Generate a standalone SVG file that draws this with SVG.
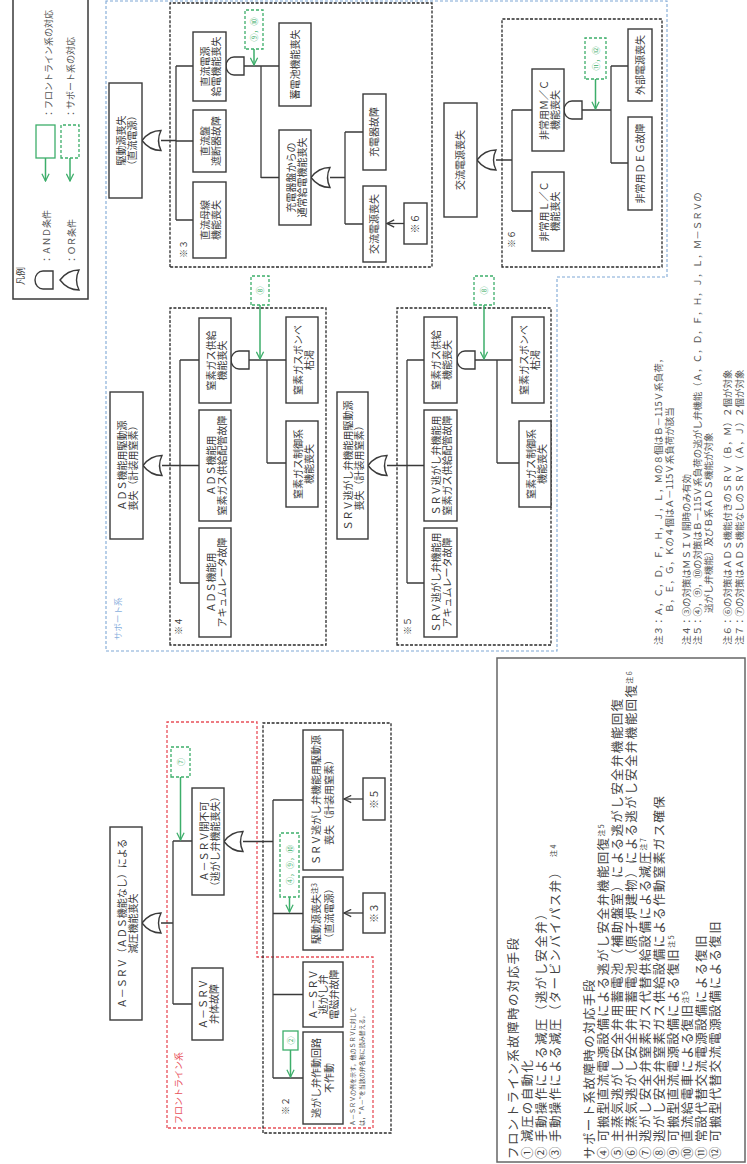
<svg xmlns="http://www.w3.org/2000/svg" width="747" height="1164" viewBox="0 0 747 1164">
<style>
.bx{fill:#fff;stroke:#3a3a3a;stroke-width:1.4}
.t{font-family:"Noto Sans CJK JP","Noto Sans",sans-serif;font-size:10px;fill:#3a3a3a;text-anchor:middle}
.ln{fill:none;stroke:#3a3a3a;stroke-width:1.3}
.gt{fill:#fff;stroke:#3a3a3a;stroke-width:1.4}
.gd{fill:#fff;stroke:#3dae6a;stroke-width:1.3;stroke-dasharray:3 2}
.gs{fill:#fff;stroke:#3dae6a;stroke-width:1.3}
.ga{fill:none;stroke:#3dae6a;stroke-width:1.5;marker-end:url(#mg)}
.ka{fill:none;stroke:#3a3a3a;stroke-width:1.3;marker-end:url(#mk)}
.gx{font-family:"Noto Sans CJK JP",sans-serif;font-size:8px;fill:#3dae6a;text-anchor:middle}
.kd{fill:none;stroke:#2a2a2a;stroke-width:1.3;stroke-dasharray:3 1.6}
.rd{fill:none;stroke:#e8505a;stroke-width:1.3;stroke-dasharray:3 2}
.bd{fill:none;stroke:#7fa8d6;stroke-width:1.1;stroke-dasharray:3 2}
.lb{font-family:"Noto Sans CJK JP",sans-serif;font-size:9px;fill:#3a3a3a}
.lg{font-family:"Noto Sans CJK JP",sans-serif;font-size:9px;fill:#555}
.n2{font-family:"Noto Sans CJK JP",sans-serif;font-size:6px;fill:#444}
.sl{font-family:"Noto Sans CJK JP",sans-serif;font-size:8.5px;fill:#8ab0dd}
.fl{font-family:"Noto Sans CJK JP",sans-serif;font-size:9px;fill:#e8505a}
.ls{font-family:"Noto Sans CJK JP",sans-serif;font-size:12.5px;fill:#444;letter-spacing:1.4px}
.nt{font-family:"Noto Sans CJK JP",sans-serif;font-size:9.5px;fill:#555}
.sup{font-size:7px}
</style>
<defs>
<marker id="mg" viewBox="0 0 10 10" refX="9" refY="5" markerWidth="9" markerHeight="9" markerUnits="userSpaceOnUse" orient="auto"><path d="M1,1 L9,5 L1,9" fill="none" stroke="#3dae6a" stroke-width="1.4"/></marker>
<marker id="mk" viewBox="0 0 10 10" refX="9" refY="5" markerWidth="9" markerHeight="9" markerUnits="userSpaceOnUse" orient="auto"><path d="M1,1 L9,5 L1,9" fill="none" stroke="#3a3a3a" stroke-width="1.4"/></marker>
<path id="or" d="M0,0 C4,3 10,9 10,19 Q0,14 -10,19 C-10,9 -4,3 0,0 Z"/>
<path id="and" d="M-9,18 V8 A9,8 0 0 1 9,8 V18 Z"/>
</defs>
<g transform="translate(0,1164) rotate(-90)">

<g id="regions">
<path class="bd" d="M1163,106 L513,106 L513,557 L887,557 L887,667 L1163,667 Z"/>
<text class="sl" x="524" y="121">サポート系</text>
<path class="rd" d="M36,167 H442 V257 H207 V373 H36 Z"/>
<text class="fl" x="40" y="182">フロントライン系</text>
<rect class="kd" x="31" y="263" width="410" height="128"/>
<text class="lb" x="49" y="289">※２</text>
<rect class="kd" x="897" y="170" width="264" height="262"/>
<text class="lb" x="906" y="187">※３</text>
<rect class="kd" x="519" y="170" width="337" height="156"/>
<text class="lb" x="529" y="182">※４</text>
<rect class="kd" x="519" y="397" width="337" height="154"/>
<text class="lb" x="529" y="411">※５</text>
<rect class="kd" x="897" y="502" width="248" height="160"/>
<text class="lb" x="916" y="515">※６</text>
</g>

<g id="connectors">
<path class="ln" d="M241,161 V173 M160,173 H323 M160,173 V192 M323,173 V192"/>
<path class="ln" d="M322.5,243 V273 M86,273 H364 M364,273 V303 M250.5,273 V303 M169.5,273 V303 M86,273 V303"/>
<path class="ka" d="M251,363 V344"/>
<path class="ka" d="M365,363 V344"/>
<path class="ln" d="M1023.5,161 V176 M944,176 H1098 M1098,176 V193 M1023,176 V193 M944,176 V193"/>
<path class="ln" d="M1098,244 V261 M986,261 H1098 M1098,261 V279 M986.5,261 V279"/>
<path class="ln" d="M986.5,330 V345 M940,345 H1032 M1032,345 V363 M940,345 V363"/>
<path class="ka" d="M940.5,404 V387"/>
<path class="ln" d="M1004,496 V512 M953,512 H1054 M1054,512 V532 M953,512 V532"/>
<path class="ln" d="M1054,582 V611 M1001,611 H1098 M1098,611 V628 M1001,611 V628"/>
<path class="ln" d="M698.5,162 V180 M581,180 H804 M804,180 V199 M698.5,180 V199 M581,180 V199"/>
<path class="ln" d="M804,249 V267 M701,267 H804 M804,267 V286 M701,267 V286"/>
<path class="ln" d="M698.5,387 V407 M581,407 H804 M804,407 V424 M698.5,407 V424 M581,407 V424"/>
<path class="ln" d="M804,475 V497 M701,497 H804 M804,497 V512 M701,497 V519"/>
<path class="ga" d="M387,180.5 H324"/>
<path class="ga" d="M114,290.5 H87"/>
<path class="ga" d="M267,289.5 H252"/>
<path class="ga" d="M1115,254 H1099"/>
<path class="ga" d="M859,260 H805"/>
<path class="ga" d="M859,484 H805"/>
<path class="ga" d="M1085,595.5 H1055"/>
</g>

<g id="gates">
<use href="#or" class="gt" x="241" y="142"/>
<use href="#or" class="gt" x="322.5" y="224"/>
<use href="#or" class="gt" x="1023.5" y="142"/>
<use href="#and" class="gt" x="1098" y="226"/>
<use href="#or" class="gt" x="986.5" y="311"/>
<use href="#or" class="gt" x="1004" y="477"/>
<use href="#and" class="gt" x="1054" y="564"/>
<use href="#or" class="gt" x="698.5" y="143"/>
<use href="#and" class="gt" x="804" y="231"/>
<use href="#or" class="gt" x="698.5" y="368"/>
<use href="#and" class="gt" x="804" y="457"/>
</g>

<g id="n-top"><rect class="bx" x="144" y="110" width="193" height="32"/><text class="t" x="240.5" y="125.5">Ａ－ＳＲＶ（ＡＤＳ機能なし）による</text><text class="t" x="240.5" y="136.5">減圧機能喪失</text></g>
<g id="n-bentai"><rect class="bx" x="124" y="192" width="72" height="31"/><text class="t" x="160" y="207">Ａ－ＳＲＶ</text><text class="t" x="160" y="218">弁体故障</text></g>
<g id="n-kaifuka"><rect class="bx" x="269" y="192" width="107" height="32"/><text class="t" x="322.5" y="207.5">Ａ－ＳＲＶ開不可</text><text class="t" x="322.5" y="218.5">（逃がし弁機能喪失）</text></g>
<g id="n-srvdrive"><rect class="bx" x="294" y="303" width="140" height="40"/><text class="t" x="364" y="320">ＳＲＶ逃がし弁機能用駆動源</text><text class="t" x="364" y="333">喪失（計装用窒素）</text></g>
<g id="n-dcdrive"><rect class="bx" x="214" y="303" width="73" height="40"/><text class="t" x="250.5" y="320">駆動源喪失<tspan class="sup" dy="-3">注3</tspan></text><text class="t" x="250.5" y="333">（直流電源）</text></g>
<g id="n-solenoid"><rect class="bx" x="137" y="303" width="65" height="40"/><text class="t" x="169.5" y="316.5">Ａ－ＳＲＶ</text><text class="t" x="169.5" y="327">逃がし弁</text><text class="t" x="169.5" y="337.5">電磁弁故障</text></g>
<g id="n-circuit"><rect class="bx" x="40" y="303" width="92" height="40"/><text class="t" x="86" y="320">逃がし弁作動回路</text><text class="t" x="86" y="333">不作動</text></g>
<g id="n-ref3"><rect class="bx" x="231" y="363" width="40" height="22"/><text class="t" x="251" y="377.5">※３</text></g>
<g id="n-ref5"><rect class="bx" x="344" y="363" width="42" height="22"/><text class="t" x="365" y="377.5">※５</text></g>
<g id="n-note2"><text class="n2" x="38" y="354.5">Ａ－ＳＲＶの例を示す。他のＳＲＶに対して</text><text class="n2" x="38" y="363.5">は，“Ａ－”を当該の弁名称に読み替える。</text></g>

<g id="n-g7"><rect class="gd" x="387" y="171" width="30" height="19"/><text class="gx" x="402" y="183.5">⑦</text></g>
<g id="n-g2"><rect class="gs" x="114" y="283" width="19" height="15"/><text class="gx" x="123.5" y="293.5">②</text></g>
<g id="n-g4910"><rect class="gd" x="267" y="280" width="64" height="19"/><text class="gx" x="299" y="292.5">④，⑨，⑩</text></g>

<g id="n-d1"><rect class="bx" x="966" y="109" width="115" height="33"/><text class="t" x="1023.5" y="124.5">駆動源喪失</text><text class="t" x="1023.5" y="135.5">（直流電源）</text></g>
<g id="n-d2"><rect class="bx" x="1063" y="193" width="69" height="33"/><text class="t" x="1097.5" y="208.5">直流電源</text><text class="t" x="1097.5" y="219.5">給電機能喪失</text></g>
<g id="n-d3"><rect class="bx" x="992" y="193" width="62" height="33"/><text class="t" x="1023" y="208.5">直流盤</text><text class="t" x="1023" y="219.5">遮断器故障</text></g>
<g id="n-d4"><rect class="bx" x="906" y="193" width="76" height="33"/><text class="t" x="944" y="208.5">直流母線</text><text class="t" x="944" y="219.5">機能喪失</text></g>
<g id="n-d5"><rect class="bx" x="1058" y="279" width="83" height="32"/><text class="t" x="1099.5" y="298.5">蓄電池機能喪失</text></g>
<g id="n-d6"><rect class="bx" x="939" y="279" width="95" height="32"/><text class="t" x="986.5" y="294.5">充電器盤からの</text><text class="t" x="986.5" y="305.5">通常給電機能喪失</text></g>
<g id="n-d7"><rect class="bx" x="994" y="363" width="76" height="23"/><text class="t" x="1032" y="378">充電器故障</text></g>
<g id="n-d8"><rect class="bx" x="902" y="363" width="76" height="23"/><text class="t" x="940" y="378">交流電源喪失</text></g>
<g id="n-ref6"><rect class="bx" x="920" y="404" width="41" height="23"/><text class="t" x="940.5" y="419">※６</text></g>
<g id="n-g910"><rect class="gd" x="1115" y="245" width="39" height="18"/><text class="gx" x="1134.5" y="257">⑨，⑩</text></g>

<g id="n-a1"><rect class="bx" x="947" y="444" width="114" height="33"/><text class="t" x="1004" y="464">交流電源喪失</text></g>
<g id="n-a2"><rect class="bx" x="1013" y="532" width="82" height="32"/><text class="t" x="1054" y="547.5">非常用Ｍ／Ｃ</text><text class="t" x="1054" y="558.5">機能喪失</text></g>
<g id="n-a3"><rect class="bx" x="913" y="532" width="79" height="32"/><text class="t" x="952.5" y="547.5">非常用Ｌ／Ｃ</text><text class="t" x="952.5" y="558.5">機能喪失</text></g>
<g id="n-a4"><rect class="bx" x="1063" y="628" width="72" height="24"/><text class="t" x="1099" y="643.5">外部電源喪失</text></g>
<g id="n-a5"><rect class="bx" x="954" y="628" width="93" height="24"/><text class="t" x="1000.5" y="643.5">非常用ＤＥＧ故障</text></g>
<g id="n-g1112"><rect class="gd" x="1085" y="585" width="41" height="21"/><text class="gx" x="1105.5" y="598.5">⑪，⑫</text></g>

<g id="n-c1"><rect class="bx" x="625" y="110" width="147" height="33"/><text class="t" x="698.5" y="125.5">ＡＤＳ機能用駆動源</text><text class="t" x="698.5" y="136.5">喪失（計装用窒素）</text></g>
<g id="n-c2"><rect class="bx" x="761" y="199" width="85" height="32"/><text class="t" x="803.5" y="214.5">窒素ガス供給</text><text class="t" x="803.5" y="225.5">機能喪失</text></g>
<g id="n-c3"><rect class="bx" x="643" y="199" width="111" height="32"/><text class="t" x="698.5" y="214.5">ＡＤＳ機能用</text><text class="t" x="698.5" y="225.5">窒素ガス供給配管故障</text></g>
<g id="n-c4"><rect class="bx" x="527" y="199" width="109" height="32"/><text class="t" x="581.5" y="214.5">ＡＤＳ機能用</text><text class="t" x="581.5" y="225.5">アキュムレータ故障</text></g>
<g id="n-c5"><rect class="bx" x="761" y="286" width="86" height="32"/><text class="t" x="804" y="301.5">窒素ガスボンベ</text><text class="t" x="804" y="312.5">枯渇</text></g>
<g id="n-c6"><rect class="bx" x="657" y="286" width="86" height="32"/><text class="t" x="700" y="301.5">窒素ガス制御系</text><text class="t" x="700" y="312.5">機能喪失</text></g>
<g id="n-g8a"><rect class="gd" x="859" y="251" width="29" height="18"/><text class="gx" x="873.5" y="263">⑧</text></g>

<g id="n-e1"><rect class="bx" x="625" y="337" width="147" height="31"/><text class="t" x="698.5" y="352">ＳＲＶ逃がし弁機能用駆動源</text><text class="t" x="698.5" y="363">喪失（計装用窒素）</text></g>
<g id="n-e2"><rect class="bx" x="761" y="424" width="86" height="33"/><text class="t" x="804" y="439.5">窒素ガス供給</text><text class="t" x="804" y="450.5">機能喪失</text></g>
<g id="n-e3"><rect class="bx" x="643" y="424" width="111" height="33"/><text class="t" x="698.5" y="439.5">ＳＲＶ逃がし弁機能用</text><text class="t" x="698.5" y="450.5">窒素ガス供給配管故障</text></g>
<g id="n-e4"><rect class="bx" x="527" y="424" width="109" height="33"/><text class="t" x="581.5" y="439.5">ＳＲＶ逃がし弁機能用</text><text class="t" x="581.5" y="450.5">アキュムレータ故障</text></g>
<g id="n-e5"><rect class="bx" x="761" y="512" width="86" height="32"/><text class="t" x="804" y="527.5">窒素ガスボンベ</text><text class="t" x="804" y="538.5">枯渇</text></g>
<g id="n-e6"><rect class="bx" x="657" y="519" width="86" height="32"/><text class="t" x="700" y="534.5">窒素ガス制御系</text><text class="t" x="700" y="545.5">機能喪失</text></g>
<g id="n-g8b"><rect class="gd" x="859" y="474" width="29" height="20"/><text class="gx" x="873.5" y="487">⑧</text></g>

<g id="legend">
<rect x="865" y="13" width="305" height="75" fill="#fff" stroke="#3a3a3a" stroke-width="1.5"/>
<text class="lb" x="879" y="24">凡例</text>
<use href="#and" class="gt" x="884" y="35"/>
<text class="lg" x="900" y="50">：ＡＮＤ条件</text>
<use href="#or" class="gt" x="884" y="60"/>
<text class="lg" x="900" y="74.5">：ＯＲ条件</text>
<rect class="gs" x="1006" y="36" width="33" height="19"/>
<path class="ga" d="M1006,45.5 H983"/>
<text class="lg" x="1046" y="52">：フロントライン系の対応</text>
<rect class="gd" x="1006" y="61" width="33" height="18"/>
<path class="ga" d="M1006,70 H983"/>
<text class="lg" x="1046" y="74">：サポート系の対応</text>
</g>

<g id="measures">
<rect x="2" y="497" width="504" height="248" fill="#fff" stroke="#666" stroke-width="1.5"/>
<text class="ls" x="5" y="517.5">フロントライン系故障時の対応手段</text>
<text class="ls" x="5" y="531.5">①</text><text class="ls" x="22" y="531.5">減圧の自動化</text>
<text class="ls" x="5" y="545.5">②</text><text class="ls" x="22" y="545.5">手動操作による減圧（逃がし安全弁）</text>
<text class="ls" x="5" y="559.5">③</text><text class="ls" x="22" y="559.5">手動操作による減圧（タービンバイパス弁）　<tspan class="sup" dy="-4">注4</tspan></text>
<text class="ls" x="5" y="593.5">サポート系故障時の対応手段</text>
<text class="ls" x="5" y="607.5">④</text><text class="ls" x="22" y="607.5">可搬型直流電源設備による逃がし安全弁機能回復<tspan class="sup" dy="-4">注5</tspan></text>
<text class="ls" x="5" y="621.5">⑤</text><text class="ls" x="22" y="621.5">主蒸気逃がし安全弁用蓄電池（補助盤室）による逃がし安全弁機能回復</text>
<text class="ls" x="5" y="635.5">⑥</text><text class="ls" x="22" y="635.5">主蒸気逃がし安全弁用蓄電池（原子炉建物）による逃がし安全弁機能回復<tspan class="sup" dy="-4">注6</tspan></text>
<text class="ls" x="5" y="649.5">⑦</text><text class="ls" x="22" y="649.5">逃がし安全弁窒素ガス代替供給設備による減圧<tspan class="sup" dy="-4">注7</tspan></text>
<text class="ls" x="5" y="663.5">⑧</text><text class="ls" x="22" y="663.5">逃がし安全弁窒素ガス供給設備による作動窒素ガス確保</text>
<text class="ls" x="5" y="677.5">⑨</text><text class="ls" x="22" y="677.5">可搬型直流電源設備による復旧<tspan class="sup" dy="-4">注5</tspan></text>
<text class="ls" x="5" y="691.5">⑩</text><text class="ls" x="22" y="691.5">直流給電車による復旧<tspan class="sup" dy="-4">注5</tspan></text>
<text class="ls" x="5" y="705.5">⑪</text><text class="ls" x="22" y="705.5">常設代替交流電源設備による復旧</text>
<text class="ls" x="5" y="719.5">⑫</text><text class="ls" x="22" y="719.5">可搬型代替交流電源設備による復旧</text>
</g>

<g id="notes">
<text class="nt" x="519" y="661.5">注３：Ａ，Ｃ，Ｄ，Ｆ，Ｈ，Ｊ，Ｌ，Ｍの８個はＢ－115Ｖ系負荷，</text>
<text class="nt" x="551" y="673.3">Ｂ，Ｅ，Ｇ，Ｋの４個はＡ－115Ｖ系負荷が該当</text>
<text class="nt" x="519" y="690">注４：③の対策はＭＳＩＶ開時のみ有効</text>
<text class="nt" x="519" y="700.6">注５：④，⑨，⑩の対策はＢ－115Ｖ系負荷の逃がし弁機能（Ａ，Ｃ，Ｄ，Ｆ，Ｈ，Ｊ，Ｌ，Ｍ－ＳＲＶの</text>
<text class="nt" x="551" y="711.6">逃がし弁機能）及びＢ系ＡＤＳ機能が対象</text>
<text class="nt" x="519" y="731">注６：⑥の対策はＡＤＳ機能付きのＳＲＶ（Ｂ，Ｍ）２個が対象</text>
<text class="nt" x="519" y="742.6">注７：⑦の対策はＡＤＳ機能なしのＳＲＶ（Ａ，Ｊ）２個が対象</text>
</g>

</g>
</svg>
